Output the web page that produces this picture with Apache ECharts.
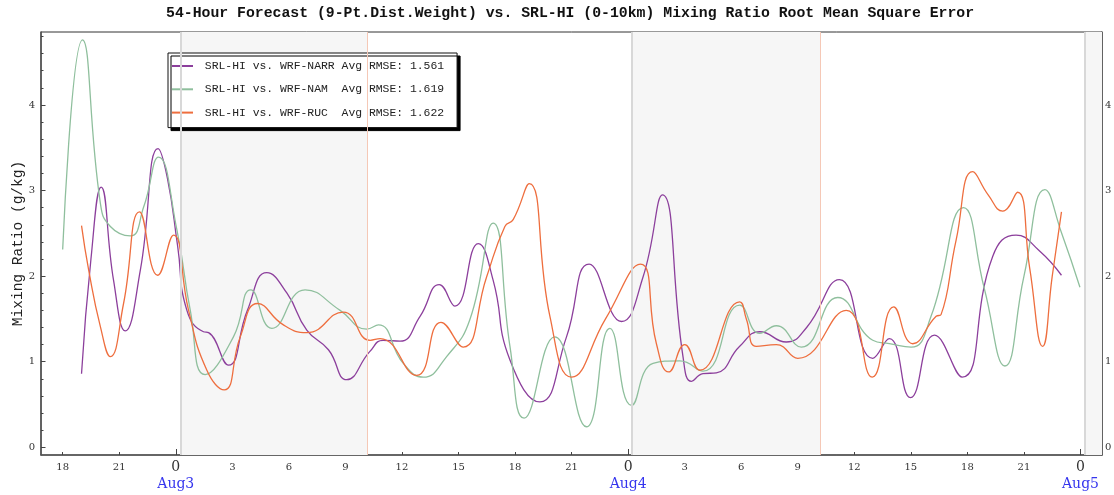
<!DOCTYPE html>
<html>
<head>
<meta charset="utf-8">
<script src="https://cdn.jsdelivr.net/npm/echarts@6/dist/echarts.min.js"></script>
<style>
  html, body { margin: 0; padding: 0; background: #fff; }
  #chart { width: 1114px; height: 495px; }
</style>
</head>
<body>
<div id="chart"></div>
<script>
// Time axis: hours counted from 00 UTC on Aug 3
const hourTicks = [-6, -3, 0, 3, 6, 9, 12, 15, 18, 21, 24, 27, 30, 33, 36, 39, 42, 45, 48];
const dayStarts = [0, 24, 48];
const dayNames = ['Aug3', 'Aug4', 'Aug5'];
const yMajor = [0, 1, 2, 3, 4];
const yMinor = [0.2, 0.4, 0.6, 0.8, 1.2, 1.4, 1.6, 1.8, 2.2, 2.4, 2.6, 2.8,
                3.2, 3.4, 3.6, 3.8, 4.2, 4.4, 4.6, 4.8];

// Night-time shading (start hour, end hour)
const nightBands = [[0.24, 10.16], [24.21, 34.21], [48.21, 49.14]];

const seriesNames = ['SRL-HI vs. WRF-NARR', 'SRL-HI vs. WRF-NAM', 'SRL-HI vs. WRF-RUC'];
const avgRmse = ['1.561', '1.619', '1.622'];

// RMSE of mixing ratio (g/kg): [hour, value]
const narr = [
  [-5.0, 0.86], [-4.5, 2.2], [-3.96, 3.04], [-3.3, 1.95], [-2.68, 1.36], [-1.88, 2.07],
  [-0.94, 3.49], [-0.45, 3.15], [0.1, 2.35], [0.59, 1.6], [1.47, 1.35], [1.74, 1.34],
  [2.8, 0.96], [3.8, 1.6], [4.83, 2.04], [5.9, 1.8], [6.95, 1.37], [8.1, 1.14],
  [9.07, 0.79], [10.3, 1.12], [11.0, 1.25], [11.9, 1.24], [12.96, 1.53], [13.98, 1.90],
  [14.81, 1.65], [16.05, 2.38], [16.84, 1.95], [17.73, 1.02], [19.32, 0.53], [20.73, 1.29],
  [21.93, 2.14], [23.65, 1.47], [24.79, 1.99], [25.82, 2.95], [26.91, 1.06], [27.36, 0.77],
  [27.97, 0.86], [28.68, 0.87], [29.92, 1.18], [30.98, 1.35], [32.39, 1.23], [33.47, 1.40],
  [35.21, 1.96], [36.98, 1.04], [37.86, 1.27], [38.98, 0.58], [40.25, 1.31], [41.72, 0.82],
  [43.34, 2.23], [44.58, 2.48], [45.8, 2.3], [46.99, 2.01]
];
const nam = [
  [-6.0, 2.31], [-4.95, 4.76], [-4.0, 2.85], [-3.47, 2.58],
  [-2.41, 2.47], [-1.7, 2.81], [-0.91, 3.39], [0.06, 2.54], [0.77, 1.6], [1.56, 0.85],
  [3.06, 1.29], [3.98, 1.84], [5.1, 1.39], [6.86, 1.84], [8.72, 1.60], [10.13, 1.38],
  [10.75, 1.43], [12.07, 0.98], [13.13, 0.82], [14.37, 1.06], [15.6, 1.49], [16.84, 2.62],
  [17.73, 1.18], [18.48, 0.34], [20.11, 1.29], [21.79, 0.24], [23.03, 1.39], [24.18, 0.49],
  [25.32, 0.98], [26.74, 1.01], [27.97, 0.89], [29.92, 1.66], [30.98, 1.33], [31.86, 1.42],
  [33.19, 1.17], [35.12, 1.75], [36.98, 1.25], [37.86, 1.21], [39.01, 1.17], [40.07, 1.53],
  [41.79, 2.80], [42.9, 1.85], [43.99, 0.95], [45.0, 2.0], [46.11, 3.01], [47.0, 2.5],
  [47.97, 1.87]
];
const ruc = [
  [-5.0, 2.59], [-4.62, 2.07], [-4.0, 1.41], [-3.47, 1.06], [-2.77, 1.68], [-1.92, 2.75],
  [-0.96, 2.01], [-0.12, 2.48], [0.68, 1.6], [1.65, 0.90], [2.57, 0.67], [3.42, 1.29],
  [4.34, 1.68], [5.71, 1.43], [6.95, 1.34], [8.89, 1.58], [10.31, 1.25], [10.84, 1.27],
  [12.78, 0.84], [14.07, 1.46], [15.25, 1.17], [16.49, 1.99], [17.46, 2.58], [17.9, 2.66],
  [18.75, 3.08], [19.85, 1.53], [21.0, 0.82], [22.8, 1.5], [24.65, 2.14], [25.5, 1.21],
  [26.15, 0.88], [27.0, 1.20], [27.8, 0.90], [29.92, 1.70], [30.27, 1.5], [30.8, 1.18],
  [31.86, 1.20], [33.0, 1.04], [35.57, 1.60], [36.95, 0.82], [38.09, 1.64], [39.1, 1.21],
  [40.34, 1.53], [40.6, 1.55], [41.4, 2.42], [42.28, 3.22], [43.1, 2.95], [43.87, 2.76],
  [44.66, 2.98], [45.3, 2.1], [45.99, 1.18], [46.5, 2.0], [46.99, 2.75]
];

const lineColors = ['#8c3f9c', '#8fbf9d', '#ee6e3e'];

const X_MIN = -7.15, X_MAX = 49.14;
const Y_MIN = -0.09, Y_MAX = 4.852;
const serif = 'DejaVu Serif';
const mono = 'Liberation Mono';

function hourLabel(v) {
  const h = ((v % 24) + 24) % 24;
  if (h === 0) {
    const d = dayNames[Math.round(v / 24)];
    return '{z|0}\n{d|' + d + '}';
  }
  return String(h);
}

function yAxisDef(position, major) {
  return {
    type: 'value', min: Y_MIN, max: Y_MAX, position: position,
    axisLine: { show: major, onZero: false, lineStyle: { color: '#555', width: 1.6 } },
    axisTick: {
      show: true, inside: true, length: major ? 4.5 : 2.5,
      customValues: major ? yMajor : yMinor,
      lineStyle: { color: '#444', width: 1 }
    },
    axisLabel: {
      show: major, customValues: yMajor, margin: position === 'left' ? 6 : 3,
      fontFamily: serif, fontSize: 10, color: '#333'
    },
    splitLine: { show: false }
  };
}

const yAxes = [yAxisDef('left', true), yAxisDef('left', false),
               yAxisDef('right', true), yAxisDef('right', false)];
Object.assign(yAxes[0], {
  name: 'Mixing Ratio (g/kg)', nameLocation: 'middle', nameGap: 15, nameMoveOverlap: false,
  nameTextStyle: { fontFamily: mono, fontSize: 14.5, color: '#222' }
});

const dataSeries = [narr, nam, ruc].map((d, i) => ({
  name: seriesNames[i],
  type: 'line',
  data: d,
  smooth: 0.5,
  showSymbol: false,
  z: 3,
  color: lineColors[i],
  lineStyle: { width: 1.3, color: lineColors[i] }
}));

// Shaded night periods with their edge lines
const bandSeries = {
  type: 'line', data: [], z: 1, silent: true,
  markArea: {
    silent: true,
    itemStyle: { color: '#f6f6f6' },
    data: nightBands.map(b => [{ xAxis: b[0] }, { xAxis: b[1] }])
  },
  markLine: {
    silent: true, symbol: 'none', label: { show: false },
    data: nightBands.flatMap(b => {
      const out = [{ xAxis: b[0], lineStyle: { color: '#d8d8d8', width: 2, type: 'solid' } }];
      if (b[1] < X_MAX) out.push({ xAxis: b[1], lineStyle: { color: '#f5c8b6', width: 1, type: 'solid' } });
      return out;
    })
  }
};

const chart = echarts.init(document.getElementById('chart'), null, { renderer: 'canvas' });
chart.setOption({
  animation: false,
  backgroundColor: '#fff',
  title: {
    text: '54-Hour Forecast (9-Pt.Dist.Weight) vs. SRL-HI (0-10km) Mixing Ratio Root Mean Square Error',
    left: 166, top: 6, padding: 0,
    textStyle: { fontFamily: mono, fontSize: 14.8, fontWeight: 'bold', color: '#111' }
  },
  grid: {
    left: 41, right: 12, top: 32, bottom: 40, show: true,
    outerBoundsMode: 'none', containLabel: false,
    borderColor: '#333', borderWidth: 1, backgroundColor: 'transparent'
  },
  legend: {
    orient: 'vertical', left: 168, top: 53,
    data: seriesNames,
    icon: 'rect', itemWidth: 21, itemHeight: 2, itemGap: 9.3,
    padding: [6, 13, 8, 4],
    backgroundColor: '#fff', borderColor: '#111', borderWidth: 1,
    shadowColor: '#000', shadowBlur: 0, shadowOffsetX: 3, shadowOffsetY: 3,
    textStyle: { fontFamily: mono, fontSize: 11.4, color: '#222', lineHeight: 14 },
    formatter: n => ' ' + n.padEnd(19, ' ') + ' Avg RMSE: ' + avgRmse[seriesNames.indexOf(n)]
  },
  xAxis: [
    {
      type: 'value', min: X_MIN, max: X_MAX, position: 'bottom',
      axisLine: { show: true, onZero: false, lineStyle: { color: '#555', width: 1.6 } },
      axisTick: { show: true, inside: true, length: 3, customValues: hourTicks, lineStyle: { color: '#444' } },
      axisLabel: {
        customValues: hourTicks, formatter: hourLabel, margin: 6,
        fontFamily: serif, fontSize: 10, color: '#333', lineHeight: 12,
        rich: {
          z: { fontFamily: serif, fontSize: 14, color: '#333', lineHeight: 12 },
          d: { fontFamily: serif, fontSize: 14, color: '#3535ee', lineHeight: 22 }
        }
      },
      splitLine: { show: false }
    },
    {
      type: 'value', min: X_MIN, max: X_MAX, position: 'bottom',
      axisLine: { show: false, onZero: false },
      axisTick: { show: true, inside: true, length: 6, customValues: dayStarts, lineStyle: { color: '#444' } },
      axisLabel: { show: false },
      splitLine: { show: false }
    }
  ],
  yAxis: yAxes,
  series: [bandSeries].concat(dataSeries)
});
</script>
</body>
</html>
